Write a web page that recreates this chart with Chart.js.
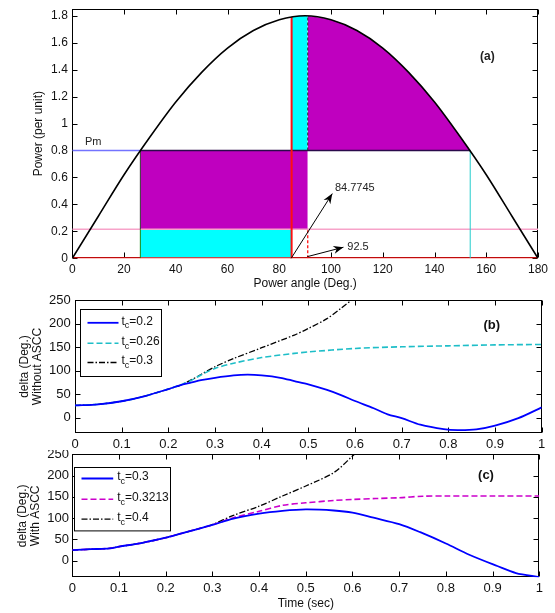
<!DOCTYPE html>
<html>
<head>
<meta charset="utf-8">
<script src="https://cdn.jsdelivr.net/npm/chart.js@4.4.0/dist/chart.umd.min.js"></script>
<style>
  body { margin: 0; background: #fff; }
  .box { position: absolute; left: 0; width: 555px; }
</style>
</head>
<body>
<div class="box" style="top:0;height:292px"><canvas id="chartA"></canvas></div>
<div class="box" style="top:290px;height:160px"><canvas id="chartB"></canvas></div>
<div class="box" style="top:450px;height:163px"><canvas id="chartC"></canvas></div>
<script>
// ---- (a) power angle curve ----
const angleDeg = [0, 10, 20, 30, 40, 50, 60, 70, 80, 90, 100, 110, 120, 130, 140, 150, 160, 170, 180];
const powerPu = [0, 0.31, 0.62, 0.9, 1.16, 1.38, 1.56, 1.69, 1.77, 1.8, 1.77, 1.69, 1.56, 1.38, 1.16, 0.9, 0.62, 0.31, 0];
const pm = 0.8;
const pFault = 0.215;
const delta0 = 26.3;
const deltaC = 84.77;
const deltaM = 91;
const deltaL = 153.8;
const stripAngle = [84.77, 88, 91];
const stripPower = [1.79, 1.8, 1.8];
const decelAngle = [91, 100, 110, 120, 130, 140, 150, 153.8];
const decelPower = [1.8, 1.77, 1.69, 1.56, 1.38, 1.16, 0.9, 0.8];
const xTicksA = [0, 20, 40, 60, 80, 100, 120, 140, 160, 180];
const yTicksA = [0, 0.2, 0.4, 0.6, 0.8, 1, 1.2, 1.4, 1.6, 1.8];

// ---- (b) without ASCC ----
const tcB = ['0.2', '0.26', '0.3'];
const timeB1 = [0, 0.05, 0.1, 0.15, 0.2, 0.225, 0.25, 0.27, 0.3, 0.34, 0.37, 0.4, 0.44, 0.47, 0.5, 0.54, 0.57, 0.6, 0.64, 0.67, 0.7, 0.74, 0.79, 0.82, 0.86, 0.9, 0.95, 1];
const deltaB1 = [26, 28.5, 35, 46, 61, 69, 75, 80, 85, 90, 91.5, 90, 85, 78, 71, 59, 48, 35.5, 20, 7, -1, -15, -24.5, -26.5, -25, -17, -1, 22];
const timeB2 = [0, 0.05, 0.1, 0.15, 0.2, 0.225, 0.25, 0.27, 0.3, 0.34, 0.4, 0.47, 0.5, 0.6, 0.7, 0.8, 0.9, 1];
const deltaB2 = [26, 28.5, 35, 46, 61, 69, 80, 91, 105, 116, 128, 137, 140, 147.5, 151, 153, 155, 156];
const timeB3 = [0, 0.05, 0.1, 0.15, 0.2, 0.225, 0.25, 0.27, 0.3, 0.34, 0.4, 0.47, 0.5, 0.54, 0.57, 0.6];
const deltaB3 = [26, 28.5, 35, 46, 61, 69, 81, 92, 108.5, 126, 149, 176, 190, 211, 233, 256];

// ---- (c) with ASCC ----
const tcC = ['0.3', '0.3213', '0.4'];
const timeC1 = [0, 0.04, 0.08, 0.1, 0.15, 0.2, 0.23, 0.27, 0.3, 0.345, 0.4, 0.45, 0.5, 0.56, 0.6, 0.645, 0.7, 0.745, 0.8, 0.85, 0.91, 0.95, 1];
const deltaC1 = [25, 27, 29, 33, 42, 54, 63, 75, 84, 99, 110.5, 117, 120.5, 118, 113, 101, 86, 67, 40.5, 14, -12.5, -29, -38.5];
const timeC2 = [0, 0.04, 0.08, 0.1, 0.15, 0.2, 0.23, 0.27, 0.3, 0.345, 0.4, 0.45, 0.5, 0.56, 0.6, 0.65, 0.7, 0.75, 0.8, 0.9, 1];
const deltaC2 = [25, 27, 29, 33, 42, 54, 63, 75, 84, 101, 116, 130, 136, 141.5, 144, 146, 148, 151.5, 152, 152, 152];
const timeC3 = [0, 0.04, 0.08, 0.1, 0.15, 0.2, 0.23, 0.27, 0.3, 0.345, 0.4, 0.45, 0.5, 0.56, 0.6, 0.615];
const deltaC3 = [25, 27, 29, 33, 42, 54, 63, 75, 85, 106.5, 128, 152, 175.5, 207, 246, 262];

const xTicksT = [0, 0.1, 0.2, 0.3, 0.4, 0.5, 0.6, 0.7, 0.8, 0.9, 1];
const yTicksD = [0, 50, 100, 150, 200, 250];

const FONT = '"Liberation Sans", Arial, sans-serif';

function pts(xs, ys) {
  return xs.map((x, i) => ({x: x, y: ys[i]}));
}

function line(data, color, width, dash, extra) {
  return Object.assign({
    data: data, borderColor: color, borderWidth: width, borderDash: dash || [],
    pointRadius: 0, fill: false, tension: 0
  }, extra || {});
}

function xScale(min, max, ticks, h, pad, size, title) {
  return {
    type: 'linear', min: min, max: max,
    afterBuildTicks: s => { s.ticks = ticks.map(v => ({value: v})); },
    afterFit: s => { s.height = h; s.paddingLeft = 0; s.paddingRight = 0; },
    grid: {display: false, drawTicks: false},
    border: {display: false},
    ticks: {autoSkip: false, maxRotation: 0, padding: pad, color: '#111',
      font: {family: FONT, size: size}, callback: v => String(+v.toFixed(3))},
    title: title
  };
}

function yScale(min, max, ticks, w, pad, size, title) {
  return {
    min: min, max: max,
    afterBuildTicks: s => { s.ticks = ticks.map(v => ({value: v})); },
    afterFit: s => { s.width = w; s.paddingTop = 0; s.paddingBottom = 0; },
    grid: {display: false, drawTicks: false},
    border: {display: false},
    ticks: {autoSkip: false, padding: pad, color: '#111',
      font: {family: FONT, size: size}, callback: v => String(+v.toFixed(3))},
    title: title
  };
}

// box and inward ticks on all four sides, drawn under the data like matlab
const framePlugin = {
  id: 'frame',
  beforeDatasetsDraw(chart) {
    const {ctx, chartArea: a, scales: {x, y}} = chart;
    const L = Math.round(a.left) + 0.5, R = Math.round(a.right) - 0.5;
    const T = Math.round(a.top) + 0.5, B = Math.round(a.bottom) - 0.5;
    ctx.save();
    ctx.strokeStyle = '#000';
    ctx.lineWidth = 1;
    ctx.strokeRect(L, T, R - L, B - T);
    ctx.beginPath();
    x.ticks.forEach(t => {
      const px = Math.round(x.getPixelForValue(t.value)) + 0.5;
      ctx.moveTo(px, B); ctx.lineTo(px, B - 5);
      ctx.moveTo(px, T); ctx.lineTo(px, T + 5);
    });
    y.ticks.forEach(t => {
      const py = Math.round(y.getPixelForValue(t.value)) + 0.5;
      ctx.moveTo(L, py); ctx.lineTo(L + 5, py);
      ctx.moveTo(R, py); ctx.lineTo(R - 5, py);
    });
    ctx.stroke();
    ctx.restore();
  }
};

function legendPlugin(labels, box, tag) {
  return {
    id: 'tcLegend',
    afterDraw(chart) {
      const ctx = chart.ctx, a = chart.chartArea;
      const bx = Math.round(a.left + box.dx) + 0.5, by = Math.round(a.top + box.dy) + 0.5;
      ctx.save();
      ctx.fillStyle = '#fff';
      ctx.fillRect(bx, by, box.w, box.h);
      ctx.strokeStyle = '#000';
      ctx.lineWidth = 1;
      ctx.strokeRect(bx, by, box.w, box.h);
      chart.data.datasets.forEach((ds, i) => {
        const yy = by + box.rows[i];
        ctx.strokeStyle = ds.borderColor;
        ctx.lineWidth = ds.borderWidth;
        ctx.setLineDash(ds.borderDash || []);
        ctx.beginPath();
        ctx.moveTo(bx + box.x0, yy);
        ctx.lineTo(bx + box.x1, yy);
        ctx.stroke();
        ctx.setLineDash([]);
        ctx.fillStyle = '#111';
        ctx.textAlign = 'left';
        ctx.textBaseline = 'middle';
        let tx = bx + box.tx;
        ctx.font = '12px ' + FONT;
        ctx.fillText('t', tx, yy - 1.5);
        tx += ctx.measureText('t').width;
        ctx.font = '9px ' + FONT;
        ctx.fillText('c', tx, yy + 3);
        tx += ctx.measureText('c').width;
        ctx.font = '12px ' + FONT;
        ctx.fillText('=' + labels[i], tx, yy - 1.5);
      });
      ctx.font = 'bold 13px ' + FONT;
      ctx.textAlign = 'center';
      ctx.fillText(tag.text, a.left + tag.dx, a.top + tag.dy);
      ctx.restore();
    }
  };
}

const annotA = {
  id: 'annotA',
  afterDatasetsDraw(chart) {
    const {ctx, scales: {x, y}} = chart;
    const arrows = [[84.6, 0, 100.5, 0.48], [90.8, 0.012, 104.8, 0.082]];
    ctx.save();
    ctx.strokeStyle = '#000';
    ctx.fillStyle = '#000';
    ctx.lineWidth = 1;
    arrows.forEach(r => {
      const x1 = x.getPixelForValue(r[0]), y1 = y.getPixelForValue(r[1]);
      const x2 = x.getPixelForValue(r[2]), y2 = y.getPixelForValue(r[3]);
      const ang = Math.atan2(y2 - y1, x2 - x1);
      ctx.beginPath(); ctx.moveTo(x1, y1); ctx.lineTo(x2, y2); ctx.stroke();
      ctx.beginPath();
      ctx.moveTo(x2, y2);
      ctx.lineTo(x2 - 10 * Math.cos(ang) + 4 * Math.sin(ang), y2 - 10 * Math.sin(ang) - 4 * Math.cos(ang));
      ctx.lineTo(x2 - 7 * Math.cos(ang), y2 - 7 * Math.sin(ang));
      ctx.lineTo(x2 - 10 * Math.cos(ang) - 4 * Math.sin(ang), y2 - 10 * Math.sin(ang) + 4 * Math.cos(ang));
      ctx.closePath();
      ctx.fill();
    });
    ctx.fillStyle = '#222';
    ctx.textAlign = 'left';
    ctx.textBaseline = 'middle';
    ctx.font = '11px ' + FONT;
    ctx.fillText('84.7745', x.getPixelForValue(101.5), y.getPixelForValue(0.52));
    ctx.fillText('92.5', x.getPixelForValue(106.3), y.getPixelForValue(0.082));
    ctx.fillText('Pm', x.getPixelForValue(4.9), y.getPixelForValue(0.86));
    ctx.font = 'bold 12px ' + FONT;
    ctx.textAlign = 'center';
    ctx.fillText('(a)', x.getPixelForValue(160.4), y.getPixelForValue(1.495));
    ctx.restore();
  }
};

const titleFont = {family: FONT, size: 12, lineHeight: 1.2};

new Chart(document.getElementById('chartA'), {
  type: 'line',
  data: {
    datasets: [
      line(pts(angleDeg, powerPu), '#000', 1.6, [], {cubicInterpolationMode: 'monotone'}),
      line(pts([deltaC, deltaC], [0, 1.79]), '#ff1010', 2),
      line(pts([deltaM, deltaM], [0, pFault]), '#ff1010', 1.3, [3, 2]),
      line(pts([deltaM, deltaM], [pm, 1.8]), '#222', 1, [3, 2]),
      line(pts([delta0, deltaL], [pm, pm]), '#2a0a4a', 1.5),
      line(pts([deltaL, deltaL], [0, pm]), '#22cccc', 1),
      line(pts([delta0, delta0], [0, pFault]), '#118811', 1),
      line(pts([delta0, delta0], [pFault, pm]), '#333', 1),
      line(pts([0, 180], [0, 0]), '#ff1010', 2),
      line(pts([0, 180], [pFault, pFault]), '#f7a3c9', 1.5),
      line(pts([0, delta0], [pm, pm]), '#7373ff', 1.5),
      line(pts([delta0, deltaM], [pm, pm]), '#bf00bf', 1, [], {fill: {value: pFault}, backgroundColor: '#bf00bf'}),
      line(pts([delta0, deltaC], [pFault, pFault]), '#00ffff', 1, [], {fill: 'origin', backgroundColor: '#00ffff'}),
      line(pts(stripAngle, stripPower), 'rgba(0,0,0,0)', 1, [], {fill: {value: pm}, backgroundColor: '#00ffff', cubicInterpolationMode: 'monotone'}),
      line(pts(decelAngle, decelPower), 'rgba(0,0,0,0)', 1, [], {fill: {value: pm}, backgroundColor: '#bf00bf', cubicInterpolationMode: 'monotone'})
    ]
  },
  options: {
    responsive: true, maintainAspectRatio: false, animation: false,
    layout: {padding: {top: 9, right: 17, left: 0, bottom: 0}},
    plugins: {legend: {display: false}, tooltip: {enabled: false}},
    scales: {
      x: xScale(0, 180, xTicksA, 33.7, 4, 12,
        {display: true, text: 'Power angle (Deg.)', color: '#111', font: titleFont, padding: {top: 0, bottom: 1}}),
      y: yScale(0, 1.85, yTicksA, 72.3, 4.5, 12,
        {display: true, text: 'Power (per unit)', color: '#111', font: titleFont, padding: {top: 31.8, bottom: 0}})
    }
  },
  plugins: [framePlugin, annotA]
});

new Chart(document.getElementById('chartB'), {
  type: 'line',
  data: {
    datasets: [
      line(pts(timeB1, deltaB1), '#0000ff', 1.8, [], {label: 't_c=' + tcB[0], tension: 0.3}),
      line(pts(timeB2, deltaB2), '#1ebec8', 1.6, [6, 3], {label: 't_c=' + tcB[1], tension: 0.3}),
      line(pts(timeB3, deltaB3), '#000', 1.3, [6, 2, 1.5, 2], {label: 't_c=' + tcB[2], tension: 0.3})
    ]
  },
  options: {
    responsive: true, maintainAspectRatio: false, animation: false,
    layout: {padding: {top: 10.3, right: 13.3, left: 0, bottom: 0}},
    plugins: {legend: {display: false}, tooltip: {enabled: false}},
    scales: {
      x: xScale(0, 1, xTicksT, 17.3, 4, 13, {display: false}),
      y: yScale(-32, 250, yTicksD, 75, 4.3, 13,
        {display: true, text: ['delta (Deg.)', 'Without ASCC'], color: '#111',
          font: {family: FONT, size: 12, lineHeight: 1.03}, padding: {top: 18.9, bottom: 0}})
    }
  },
  plugins: [framePlugin, legendPlugin(tcB, {dx: 5, dy: 8.7, w: 81, h: 67, rows: [13.3, 33.7, 53], x0: 7, x1: 38, tx: 41},
    {text: '(b)', dx: 416.7, dy: 25})]
});

new Chart(document.getElementById('chartC'), {
  type: 'line',
  data: {
    datasets: [
      line(pts(timeC1, deltaC1), '#0000ff', 1.8, [], {label: 't_c=' + tcC[0], tension: 0.3}),
      line(pts(timeC2, deltaC2), '#cc00cc', 1.6, [6, 3], {label: 't_c=' + tcC[1], tension: 0.3}),
      line(pts(timeC3, deltaC3), '#000', 1.3, [6, 2, 1.5, 2], {label: 't_c=' + tcC[2], tension: 0.3})
    ]
  },
  options: {
    responsive: true, maintainAspectRatio: false, animation: false,
    layout: {padding: {top: 4.3, right: 15.7, left: 0, bottom: 0}},
    plugins: {legend: {display: false}, tooltip: {enabled: false}},
    scales: {
      x: xScale(0, 1, xTicksT, 35.7, 3.5, 13,
        {display: true, text: 'Time (sec)', color: '#111', font: titleFont, padding: {top: 0, bottom: 1.8}}),
      y: yScale(-39, 250, yTicksD, 72.3, 3.3, 13,
        {display: true, text: ['delta (Deg.)', 'With ASCC'], color: '#111',
          font: {family: FONT, size: 12, lineHeight: 1.03}, padding: {top: 16.7, bottom: 0}})
    }
  },
  plugins: [framePlugin, legendPlugin(tcC, {dx: 1.7, dy: 13, w: 96, h: 63.4, rows: [11, 31.7, 51.7], x0: 7, x1: 38.7, tx: 42.7},
    {text: '(c)', dx: 413.7, dy: 20.7})]
});
</script>
</body>
</html>
